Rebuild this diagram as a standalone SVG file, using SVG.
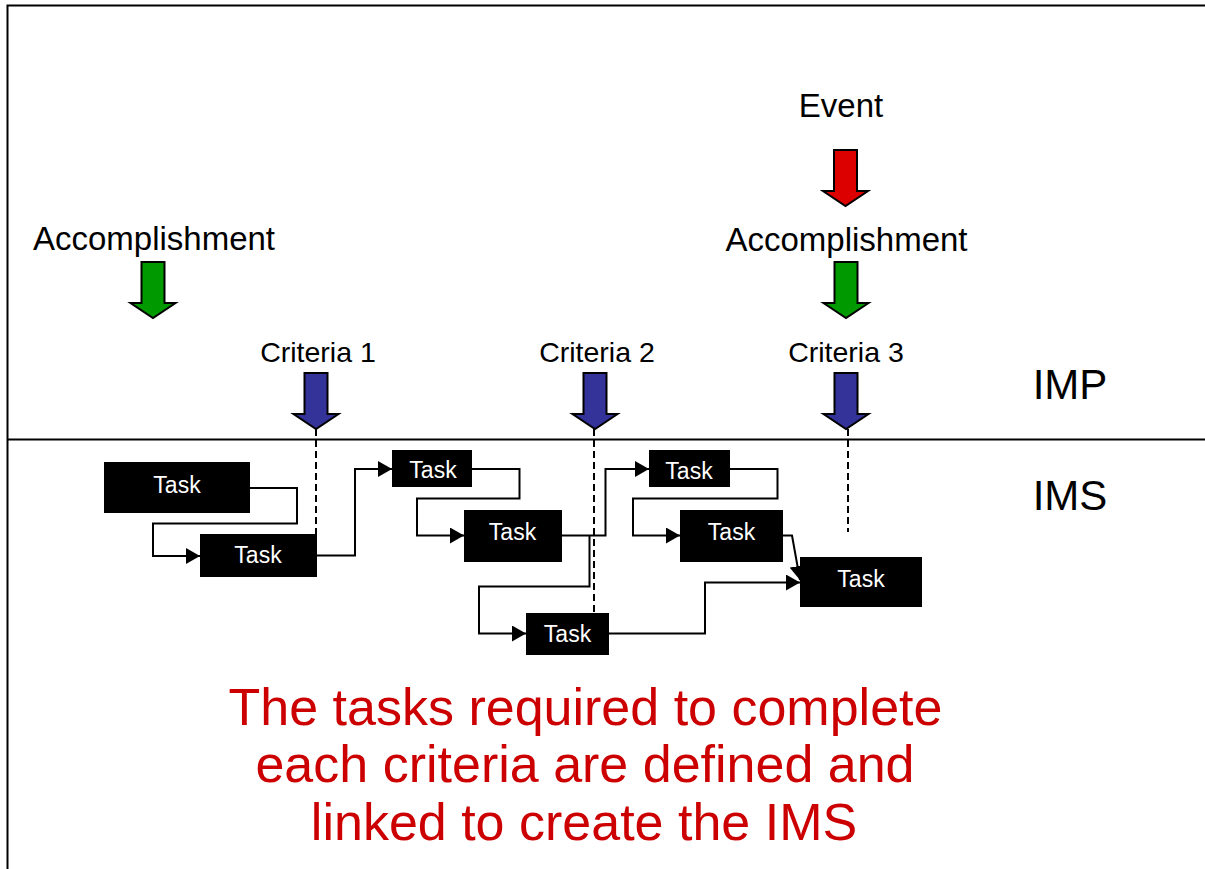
<svg xmlns="http://www.w3.org/2000/svg" width="1205" height="869" viewBox="0 0 1205 869">
<defs>
<style>
.lbl{font-family:"Liberation Sans",Arial,sans-serif;fill:#000;text-anchor:middle}
.task rect{fill:#000}
.task text{font-family:"Liberation Sans",Arial,sans-serif;font-size:23px;fill:#fff;text-anchor:middle}
.conn{fill:none;stroke:#000;stroke-width:2}
.dash{fill:none;stroke:#000;stroke-width:2;stroke-dasharray:7 4}
.arrow{stroke:#000;stroke-width:2;stroke-linejoin:miter}
.red{fill:#DD0000}.green{fill:#009900}.blue{fill:#333399}
.big{font-family:"Liberation Sans",Arial,sans-serif;font-size:52px;fill:#CC0000;text-anchor:middle}
</style>
<path id="blk" d="M-11.5,0 H11.5 V41 H22.5 L0,56 L-22.5,41 H-11.5 Z"/>
<marker id="ah" markerWidth="14" markerHeight="16" refX="14" refY="8" orient="auto" markerUnits="userSpaceOnUse"><path d="M0,0 L14,8 L0,16 Z" fill="#000"/></marker>
</defs>
<rect width="1205" height="869" fill="#fff"/>
<g id="frame" fill="none" stroke="#000" stroke-width="2">
<path d="M7.5,869 V5.5 H1205"/>
<path d="M8,439.5 H1205"/>
</g>
<g id="labels">
<text class="lbl" x="841" y="117" font-size="33">Event</text>
<text class="lbl" x="154" y="250" font-size="33">Accomplishment</text>
<text class="lbl" x="846.5" y="251" font-size="33">Accomplishment</text>
<text class="lbl" x="318" y="362" font-size="28.5">Criteria 1</text>
<text class="lbl" x="597" y="362" font-size="28.5">Criteria 2</text>
<text class="lbl" x="846" y="362" font-size="28.5">Criteria 3</text>
<text class="lbl" x="1070" y="399" font-size="42">IMP</text>
<text class="lbl" x="1070" y="510" font-size="42">IMS</text>
</g>
<g id="arrows">
<use href="#blk" class="arrow red" x="845.5" y="150"/>
<use href="#blk" class="arrow green" x="153" y="262"/>
<use href="#blk" class="arrow green" x="846" y="262"/>
<use href="#blk" class="arrow blue" x="316" y="373"/>
<use href="#blk" class="arrow blue" x="595" y="373"/>
<use href="#blk" class="arrow blue" x="846" y="373"/>
</g>
<g id="connectors">
<path class="dash" d="M316,429 V534"/>
<path class="dash" d="M594,429 V613"/>
<path class="dash" d="M848,429 V532"/>
<path class="conn" d="M250,488 H297 V523.5 H153 V556 H200" marker-end="url(#ah)"/>
<path class="conn" d="M317,555.5 H355 V469 H392" marker-end="url(#ah)"/>
<path class="conn" d="M472,469 H519.5 V498.5 H417 V535.5 H464" marker-end="url(#ah)"/>
<path class="conn" d="M562,535.5 H605.5 V469 H649" marker-end="url(#ah)"/>
<path class="conn" d="M589.5,535.5 V586.5 H479 V633.5 H526" marker-end="url(#ah)"/>
<path class="conn" d="M609,633.5 H705 V582.5 H800" marker-end="url(#ah)"/>
<path class="conn" d="M730,469 H777.5 V498.5 H633 V535.5 H680" marker-end="url(#ah)"/>
<path class="conn" d="M783,535.5 H792 L800,580" marker-end="url(#ah)"/>
</g>
<g id="taskA" class="task"><rect x="104" y="462" width="146" height="51"/><text x="177" y="493">Task</text></g>
<g id="taskB" class="task"><rect x="200" y="534" width="117" height="43"/><text x="258" y="563">Task</text></g>
<g id="taskC" class="task"><rect x="392" y="450" width="80" height="37"/><text x="433" y="478">Task</text></g>
<g id="taskD" class="task"><rect x="464" y="510" width="98" height="52"/><text x="512.5" y="540">Task</text></g>
<g id="taskE" class="task"><rect x="649" y="450" width="81" height="37"/><text x="689" y="479">Task</text></g>
<g id="taskF" class="task"><rect x="526" y="613" width="83" height="42"/><text x="567.5" y="642">Task</text></g>
<g id="taskG" class="task"><rect x="800" y="557" width="122" height="50"/><text x="861" y="587">Task</text></g>
<g id="taskH" class="task"><rect x="680" y="510" width="103" height="52"/><text x="731.5" y="540">Task</text></g>
<g id="caption">
<text class="big" x="585.5" y="725">The tasks required to complete</text>
<text class="big" x="585" y="782">each criteria are defined and</text>
<text class="big" x="584" y="840">linked to create the IMS</text>
</g>
</svg>
